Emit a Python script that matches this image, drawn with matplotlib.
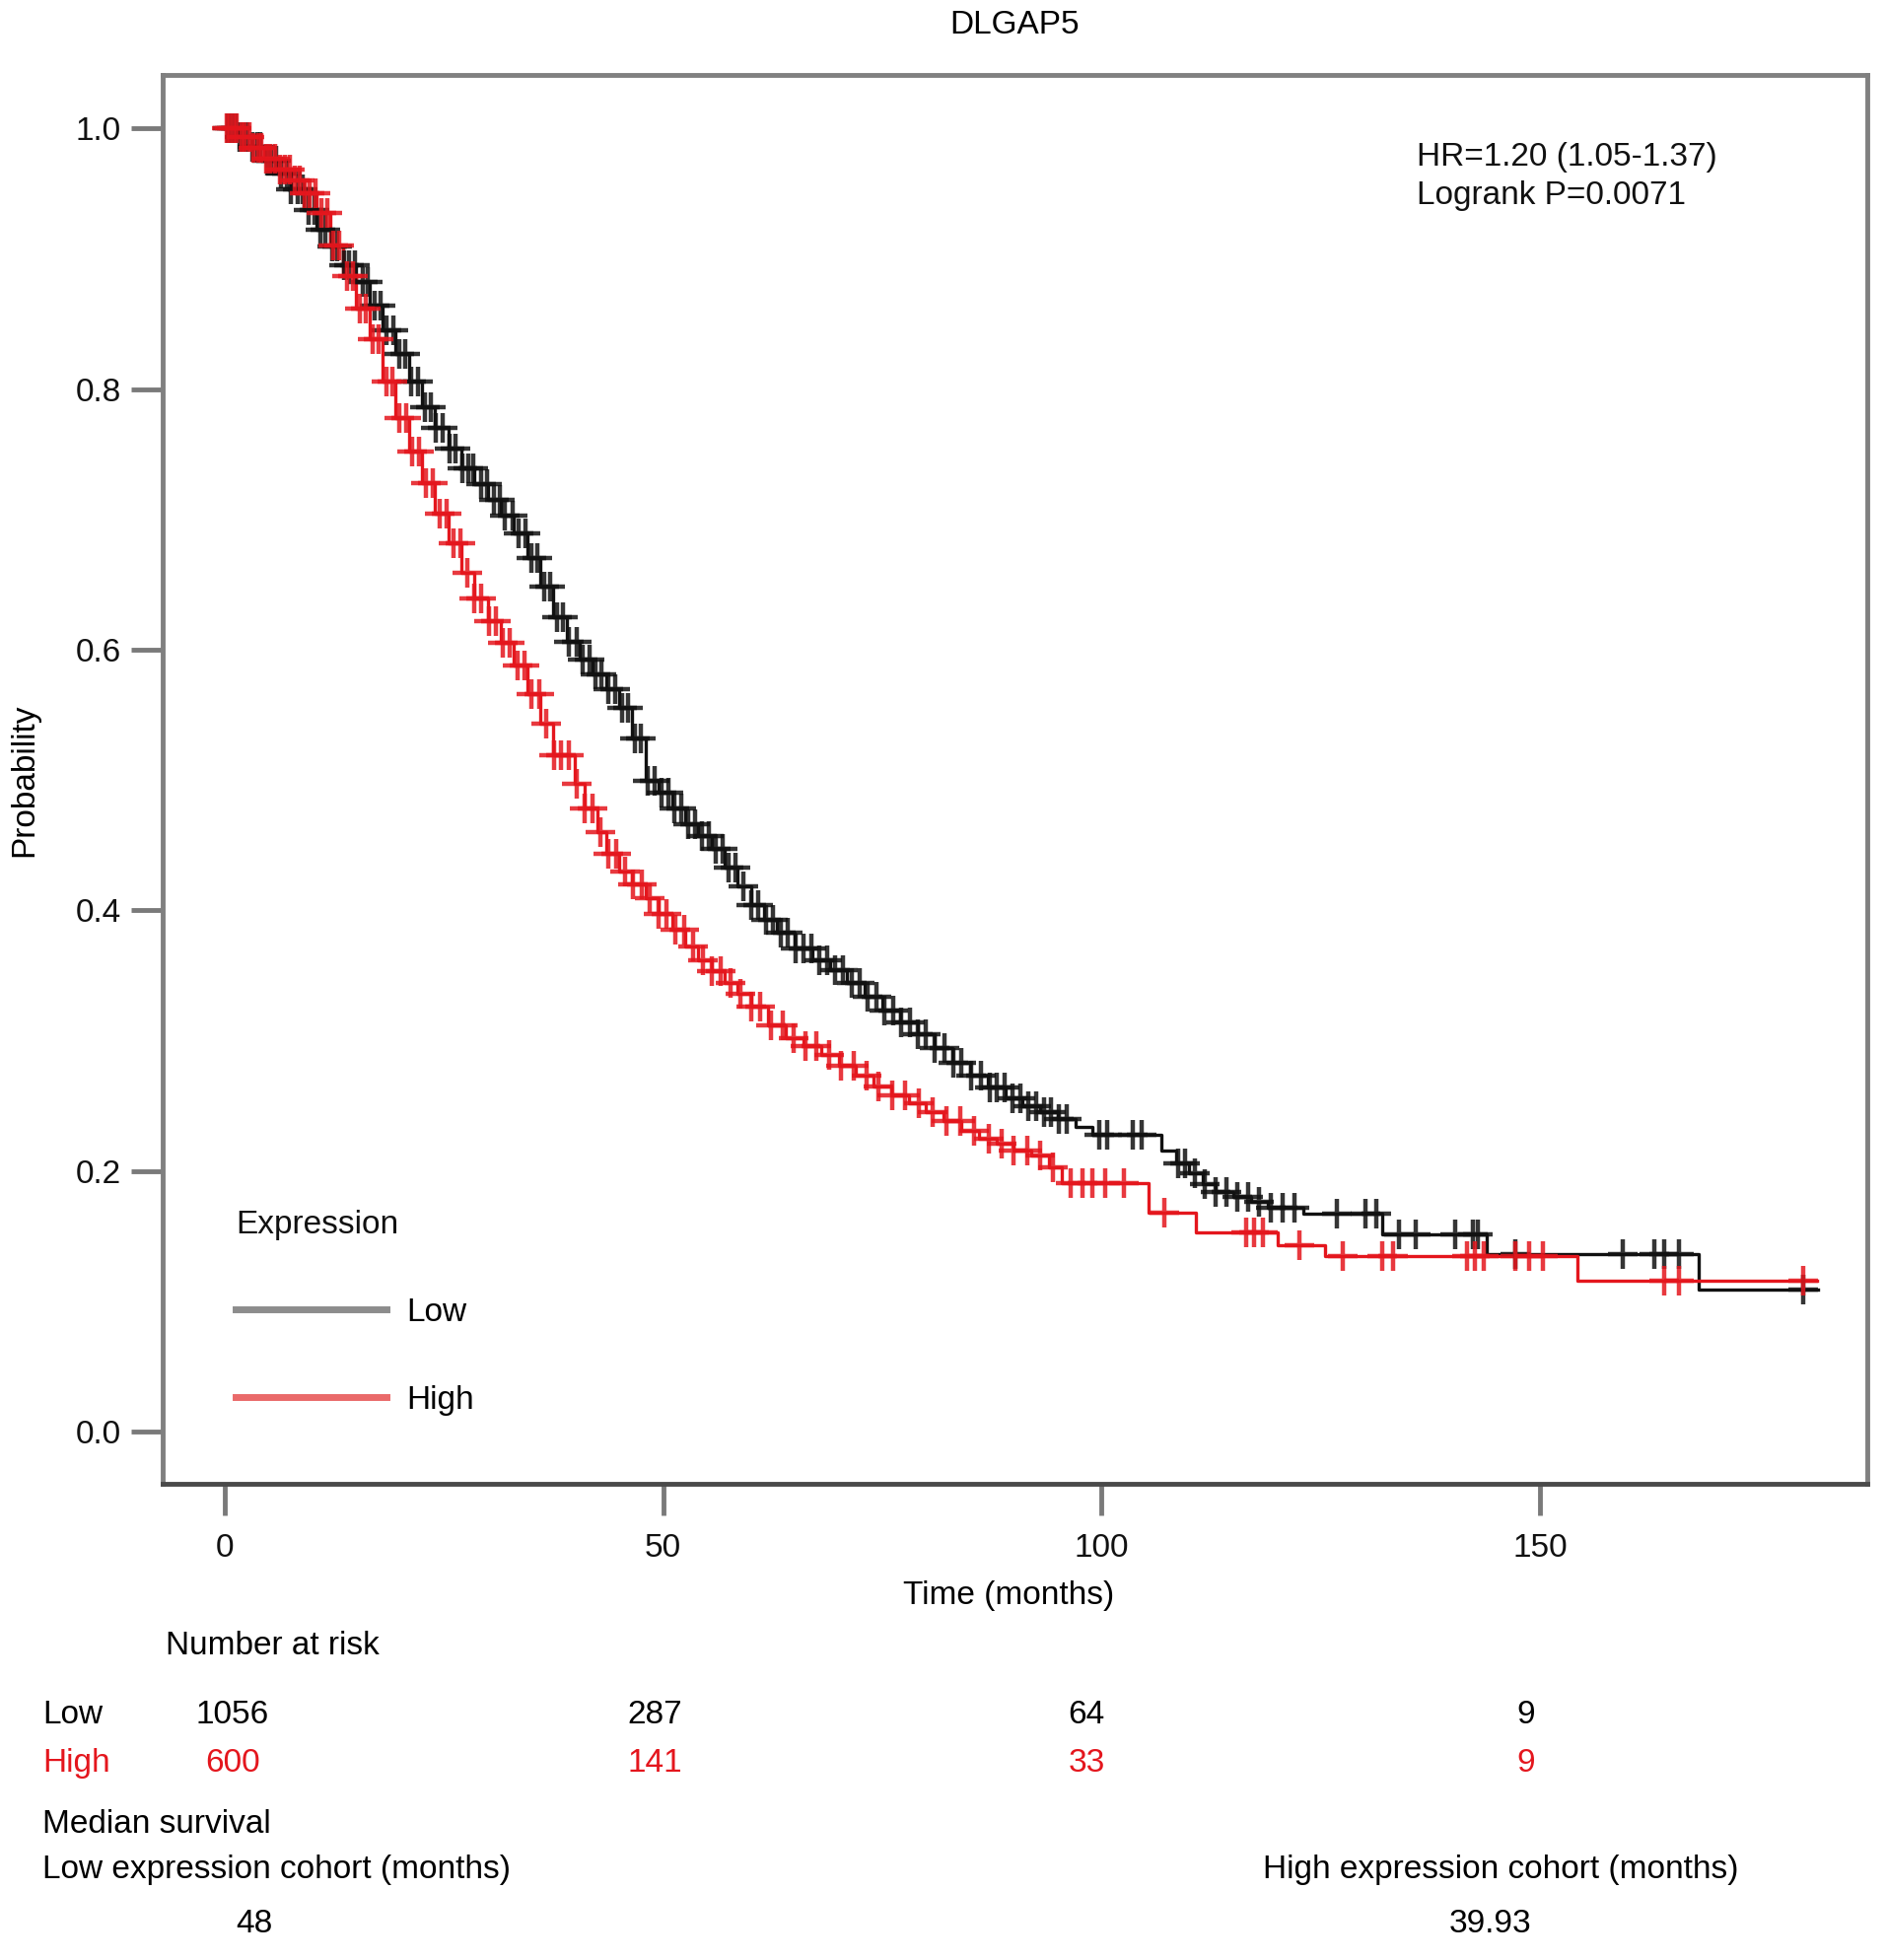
import numpy as np
import matplotlib.pyplot as plt
from matplotlib.lines import Line2D
import matplotlib.transforms as mtransforms

plt.rcParams['font.family'] = ['Liberation Sans', 'DejaVu Sans']
plt.rcParams['font.size'] = 24

# кривая Каплана-Мейера, низкая экспрессия (чёрная)
low_t = [0, 1.5, 3, 4.5, 6, 7.5, 9, 10.5, 12, 13.5, 15, 16.5, 18, 19.5, 21, 22.5, 24,
         25.5, 27, 28.5, 30, 31.5, 33, 34.5, 36, 37.5, 39, 40.5, 42, 43.5, 45, 46.5,
         48, 49.5, 51, 52.5, 54, 55.5, 57, 58.5, 60, 61.5, 63, 65, 67, 69, 71, 73, 75,
         77, 79, 81, 83, 85, 87, 89, 91, 93, 95, 97, 99, 106.8, 108.5, 110, 111.5, 113,
         115, 117, 119, 123, 132, 143.9, 168.1, 181.7]
low_s = [1.0, 0.993, 0.986, 0.975, 0.965, 0.953, 0.937, 0.922, 0.909, 0.895, 0.882,
         0.864, 0.845, 0.827, 0.806, 0.786, 0.770, 0.754, 0.739, 0.727, 0.715, 0.703,
         0.689, 0.670, 0.648, 0.625, 0.606, 0.592, 0.581, 0.570, 0.555, 0.532, 0.499,
         0.490, 0.478, 0.466, 0.457, 0.447, 0.433, 0.418, 0.404, 0.393, 0.383, 0.371,
         0.362, 0.354, 0.344, 0.334, 0.323, 0.314, 0.305, 0.294, 0.283, 0.273, 0.264,
         0.256, 0.250, 0.245, 0.240, 0.234, 0.228, 0.216, 0.206, 0.198, 0.190, 0.184,
         0.180, 0.176, 0.172, 0.167, 0.151, 0.136, 0.109, 0.109]

# высокая экспрессия (красная)
high_t = [0, 1.5, 3, 4.5, 6, 7.5, 9, 10.5, 12, 13.5, 15, 16.5, 18, 19.5, 21, 22.5, 24,
          25.5, 27, 28.5, 30, 31.5, 33, 34.5, 36, 37.5, 39.9, 41, 42.5, 43.5, 45, 46.5,
          48, 49.5, 51, 52.5, 54, 55.5, 57, 58.5, 60, 62, 64, 66, 68, 70, 72, 74, 76,
          78, 80, 82, 84, 86, 88, 90, 92, 94, 95.5, 105.4, 110.7, 120.1, 125.5, 154.3,
          181.6]
high_s = [1.0, 0.993, 0.985, 0.977, 0.968, 0.960, 0.950, 0.935, 0.910, 0.887, 0.862,
          0.838, 0.806, 0.778, 0.752, 0.728, 0.704, 0.682, 0.659, 0.639, 0.622, 0.605,
          0.588, 0.566, 0.543, 0.519, 0.497, 0.478, 0.460, 0.443, 0.430, 0.420, 0.409,
          0.397, 0.385, 0.372, 0.362, 0.353, 0.344, 0.336, 0.326, 0.312, 0.302, 0.296,
          0.289, 0.281, 0.273, 0.265, 0.258, 0.252, 0.245, 0.238, 0.231, 0.225, 0.221,
          0.216, 0.212, 0.203, 0.191, 0.168, 0.153, 0.143, 0.135, 0.116, 0.116]

# цензурированные наблюдения (месяцы)
low_censor = [0.3, 0.8, 1.2, 1.7, 2.1, 2.6, 3.2, 3.7, 4.1, 4.8, 5.3, 5.9, 6.4, 7.1, 7.6,
              8.3, 8.9, 9.6, 10.2, 10.9, 11.5, 12.3, 12.8, 13.6, 14.2, 14.9, 15.7, 16.3,
              17.1, 17.8, 18.4, 19.2, 19.9, 20.6, 21.3, 22.0, 22.8, 23.5, 24.1, 24.9,
              25.6, 26.3, 27.1, 27.8, 28.4, 29.2, 29.9, 30.7, 31.4, 32.0, 32.8, 33.5,
              34.3, 35.0, 35.6, 36.4, 37.1, 37.9, 38.6, 39.3, 40.1, 40.8, 41.6, 42.3,
              43.0, 43.8, 44.5, 45.3, 46.0, 46.8, 47.5, 48.3, 49.0, 49.8, 50.6, 51.3,
              52.1, 52.9, 53.6, 54.4, 55.2, 56.0, 56.8, 57.5, 58.3, 59.1, 60.0, 60.8,
              61.7, 62.5, 63.4, 64.2, 65.1, 66.0, 66.9, 67.8, 68.7, 69.6, 70.5, 71.5,
              72.4, 73.3, 74.3, 75.2, 76.2, 77.1, 78.1, 79.0, 80.0, 81.0, 82.1, 83.1,
              84.0, 85.1, 86.2, 87.3, 88.1, 88.9, 89.8, 90.7, 91.6, 92.5, 93.4, 94.2,
              95.1, 96.0, 99.7, 100.6, 103.6, 104.6, 108.7, 109.5, 110.6, 111.8, 113.0,
              114.2, 115.5, 116.7, 118.0, 119.3, 120.6, 122.0, 126.8, 130.1, 131.3,
              133.9, 135.8, 140.3, 142.3, 142.9, 147.2, 159.4, 163.0, 164.2, 165.8, 180.0]
high_censor = [0.2, 0.6, 1.0, 1.4, 1.9, 2.3, 2.8, 3.3, 3.8, 4.2, 4.7, 5.2, 5.8, 6.3, 6.9,
               7.4, 8.0, 8.6, 9.1, 9.7, 10.4, 11.0, 11.7, 12.4, 13.1, 13.9, 14.6, 15.4,
               16.1, 16.9, 17.6, 18.4, 19.1, 19.9, 20.7, 21.4, 22.2, 23.0, 23.7, 24.5,
               25.3, 26.1, 26.9, 27.7, 28.5, 29.3, 30.1, 30.9, 31.7, 32.5, 33.4, 34.2,
               35.0, 35.9, 36.7, 37.6, 38.4, 39.3, 40.2, 41.1, 42.0, 42.9, 43.8, 44.7,
               45.7, 46.6, 47.6, 48.5, 49.5, 50.4, 51.4, 52.4, 53.4, 54.5, 55.5, 56.6,
               57.7, 58.8, 60.0, 61.1, 62.3, 63.6, 64.9, 66.2, 67.5, 68.9, 70.3, 71.7,
               73.2, 74.6, 76.1, 77.6, 79.2, 80.7, 82.3, 83.9, 85.5, 87.1, 88.6, 90.0,
               91.5, 93.0, 94.5, 96.5, 97.8, 99.0, 100.4, 102.6, 107.1, 116.5, 117.4,
               118.4, 122.6, 127.5, 132.0, 133.2, 141.7, 142.6, 143.6, 147.2, 148.7,
               150.3, 164.2, 165.8, 180.0]

# число под риском
risk_times = [0.9, 49.1, 98.3, 148.4]
risk_low = ['1056', '287', '64', '9']
risk_high = ['600', '141', '33', '9']

median_low = '48'
median_high = '39.93'

RED = '#e4161d'
BLACK = '#111111'


def step_value(times, surv, t):
    idx = np.searchsorted(times, t, side='right') - 1
    return np.asarray(surv)[idx]


fig = plt.figure(figsize=(19.13, 19.88), dpi=100)
ax = fig.add_axes([0.0861, 0.243, 0.9039, 0.7188])

ax.plot(low_t, low_s, drawstyle='steps-post', color=BLACK, lw=2.4)
ax.plot(high_t, high_s, drawstyle='steps-post', color=RED, lw=2.4)

ax.plot(low_censor, step_value(low_t, low_s, low_censor), '+', color=BLACK,
        ms=21, mew=3.2, alpha=0.85)
ax.plot(high_censor, step_value(high_t, high_s, high_censor), '+', color=RED,
        ms=21, mew=3.2, alpha=0.85)

ax.set_xlim(-7.1, 187.3)
ax.set_ylim(-0.040, 1.041)
ax.set_xticks([0, 50, 100, 150])
ax.set_yticks([0.0, 0.2, 0.4, 0.6, 0.8, 1.0])
ax.set_yticklabels(['0.0', '0.2', '0.4', '0.6', '0.8', '1.0'])
ax.tick_params(axis='both', direction='out', length=23, width=3.5, color='#7a7a7a',
               labelsize=24, labelcolor='#111111')
ax.tick_params(axis='x', pad=13)
ax.tick_params(axis='y', pad=7)
for side in ['left', 'right', 'top']:
    ax.spines[side].set_color('#808080')
    ax.spines[side].set_linewidth(3.5)
ax.spines['bottom'].set_color('#4a4a4a')
ax.spines['bottom'].set_linewidth(3.5)

# легенда
handles = [Line2D([], [], color='#8c8c8c', lw=5),
           Line2D([], [], color='#ea6a6a', lw=5)]
leg = ax.legend(handles, ['Low', 'High'], title='Expression', loc='upper left',
                bbox_to_anchor=(0.043, 0.1945), frameon=False, fontsize=24,
                title_fontsize=24, handlelength=4.6, handletextpad=0.6,
                labelspacing=1.74, borderpad=0, borderaxespad=0)
leg._legend_box.align = 'left'
leg.get_title().set_color('#111111')

ax.text(0.736, 0.928, 'HR=1.20 (1.05-1.37)\nLogrank P=0.0071', transform=ax.transAxes,
        ha='left', va='center', fontsize=24, linespacing=1.36, color='#111111')

fig.text(0.538, 0.987, 'DLGAP5', ha='center', va='center', fontsize=24)
fig.text(0.013, 0.602, 'Probability', rotation=90, ha='center', va='center', fontsize=24)
fig.text(0.535, 0.186, 'Time (months)', ha='center', va='center', fontsize=24)

# таблица числа под риском
trans = mtransforms.blended_transform_factory(ax.transData, fig.transFigure)
fig.text(0.088, 0.160, 'Number at risk', ha='left', va='center', fontsize=24)
fig.text(0.0225, 0.1249, 'Low', ha='left', va='center', fontsize=24)
fig.text(0.0225, 0.1006, 'High', ha='left', va='center', fontsize=24, color=RED)
for t, a, b in zip(risk_times, risk_low, risk_high):
    fig.text(t, 0.1249, a, transform=trans, ha='center', va='center', fontsize=24)
    fig.text(t, 0.1006, b, transform=trans, ha='center', va='center', fontsize=24,
             color=RED)

fig.text(0.0225, 0.0694, 'Median survival', ha='left', va='center', fontsize=24)
fig.text(0.0225, 0.0458, 'Low expression cohort (months)', ha='left', va='center',
         fontsize=24)
fig.text(0.796, 0.0458, 'High expression cohort (months)', ha='center', va='center',
         fontsize=24)
fig.text(0.135, 0.0186, median_low, ha='center', va='center', fontsize=24)
fig.text(0.790, 0.0186, median_high, ha='center', va='center', fontsize=24)

fig.savefig('out.png', dpi=100)
